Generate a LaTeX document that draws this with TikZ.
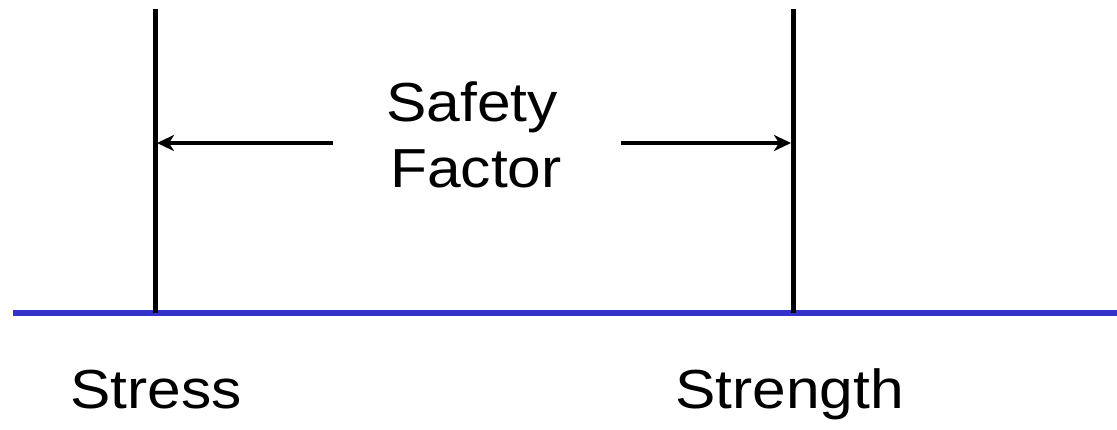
\documentclass[tikz,border=0pt]{standalone}
\usepackage{fontspec}
\setmainfont{Liberation Sans}[FakeStretch=1.1]
\usetikzlibrary{arrows.meta}
\definecolor{axisblue}{RGB}{51,51,204}
\tikzset{
  bar/.style={line width=5pt, black},
  dimarrow/.style={line width=3.5pt, -{Stealth[length=17pt,width=16pt,inset=5pt]}},
  lbl/.style={font=\fontsize{55}{66}\selectfont, inner sep=0pt},
}
\begin{document}
\begin{tikzpicture}[x=1pt,y=-1pt]
\useasboundingbox (0,0) rectangle (1117,430);
% axis
\coordinate (axL) at (13,313);
\coordinate (axR) at (1117,313);
\draw[line width=6pt, axisblue] (axL) -- (axR);
% vertical bars
\coordinate (stressTop) at (155,9);
\coordinate (stressBot) at (155,313);
\coordinate (strengthTop) at (793,9);
\coordinate (strengthBot) at (793,313);
\draw[bar] (stressTop) -- (stressBot);
\draw[bar] (strengthTop) -- (strengthBot);
% arrows
\coordinate (aLstart) at (333,143);
\coordinate (aLend) at (157,143);
\coordinate (aRstart) at (621,143);
\coordinate (aRend) at (791,143);
\draw[dimarrow] (aLstart) -- (aLend);
\draw[dimarrow] (aRstart) -- (aRend);
% labels
\node[lbl, anchor=base] (safety) at (472,122) {Safety};
\node[lbl, anchor=base] (factor) at (476,188) {Factor};
\node[lbl, anchor=base west] (stress) at (70,409) {Stress};
\node[lbl, anchor=base west] (strength) at (675,409) {Strength};
\end{tikzpicture}
\end{document}
